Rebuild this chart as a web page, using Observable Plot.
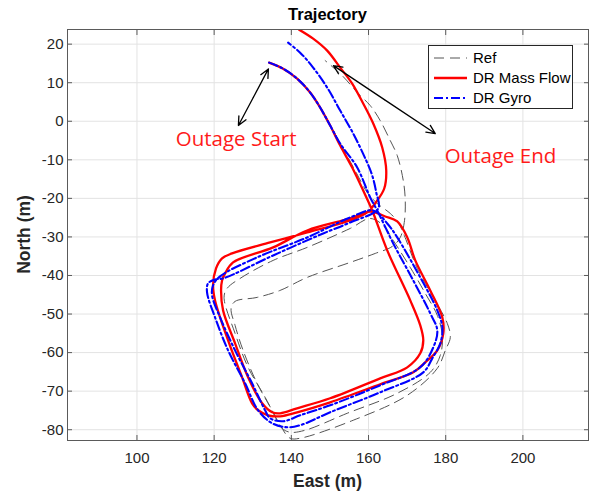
<!DOCTYPE html>
<html><head><meta charset="utf-8">
<script src="https://cdn.jsdelivr.net/npm/d3@7"></script>
<script src="https://cdn.jsdelivr.net/npm/@observablehq/plot@0.6"></script>
<style>
html,body{margin:0;padding:0;background:#fff;}
#chart{width:590px;height:491px;overflow:hidden;}
</style></head><body><div id="chart"></div>
<script>
const titleText = "Trajectory";
const xLabel = "East (m)";
const yLabel = "North (m)";
const xTicks = [100, 120, 140, 160, 180, 200];
const yTicks = [-80, -70, -60, -50, -40, -30, -20, -10, 0, 10, 20];
const seriesNames = ["Ref", "DR Mass Flow", "DR Gyro"];
const seriesColors = ["#555555", "#ff0000", "#0000ff"];

// [East, North] in metres
const refPath = [[134.24,15.21],[137.87,13.65],[141.50,11.06],[144.88,7.44],[147.73,3.29],[150.58,-1.89],[153.70,-7.59],[156.81,-13.29],[159.66,-18.47],[162.26,-21.32],[165.63,-23.91],[167.70,-26.24],[169.26,-29.61],[172.63,-38.17],[176.78,-45.69],[180.41,-52.42],[181.19,-56.05],[179.90,-59.42],[177.82,-64.08],[170.04,-71.08],[156.03,-77.55],[142.28,-82.21],[139.69,-82.21],[137.09,-78.85],[133.20,-71.59],[128.79,-63.82],[125.42,-55.01],[122.57,-45.69],[123.35,-43.35],[126.72,-40.76],[135.28,-36.09],[144.10,-32.72],[155.25,-27.80],[160.44,-25.21],[163.81,-27.02],[166.41,-30.91],[170.82,-37.91],[174.71,-44.65],[177.82,-50.34],[179.12,-55.53],[178.60,-60.71],[176.00,-65.12],[167.44,-70.56],[154.47,-75.74],[143.58,-80.14],[139.69,-80.66],[137.61,-79.62],[135.02,-74.96],[131.13,-67.97],[127.50,-59.42],[125.42,-52.94],[124.38,-48.53],[125.42,-46.72],[131.13,-45.69],[137.09,-43.87],[144.10,-40.50],[155.25,-36.61],[161.74,-34.28],[166.15,-32.47],[168.22,-30.13],[169.26,-26.24],[169.52,-20.54],[169.00,-15.36],[167.44,-8.89],[165.63,-5.00],[163.03,0.18],[160.44,4.07],[157.33,7.18],[153.18,11.84],[148.77,15.73]];

const massFlowPath = [[134.24,15.21],[137.87,13.65],[141.50,11.06],[144.88,7.44],[147.47,3.55],[150.06,-1.11],[152.66,-6.30],[155.77,-12.00],[158.62,-17.96],[160.96,-23.14],[164.85,-33.50],[170.82,-46.46],[173.41,-52.94],[174.19,-56.83],[173.41,-60.19],[170.04,-63.82],[163.03,-66.67],[150.06,-71.85],[141.50,-74.45],[137.09,-75.74],[135.02,-75.48],[132.43,-73.15],[128.79,-66.41],[125.42,-57.60],[122.31,-49.05],[121.79,-43.87],[122.05,-41.28],[122.83,-39.46],[124.90,-36.61],[135.28,-32.72],[144.10,-28.32],[155.25,-25.21],[160.44,-23.40],[164.33,-24.69],[167.44,-25.99],[170.04,-30.13],[172.11,-36.09],[176.00,-43.87],[179.12,-50.87],[179.38,-55.01],[177.82,-59.42],[174.71,-62.53],[171.59,-65.12],[163.03,-68.23],[150.06,-72.89],[141.50,-75.48],[137.09,-76.52],[133.98,-76.26],[131.39,-74.96],[129.83,-73.15],[127.24,-66.41],[123.61,-56.83],[120.23,-46.46],[119.71,-42.57],[120.49,-38.17],[122.05,-35.57],[124.64,-34.28],[134.50,-31.43],[144.10,-28.84],[155.25,-25.73],[159.66,-23.65],[162.26,-20.54],[164.07,-17.44],[164.59,-12.77],[163.55,-6.81],[161.22,-0.60],[158.62,4.59],[155.77,9.77],[152.66,13.91],[149.29,18.32],[145.65,21.43],[142.02,23.76]];

const gyroPath = [[134.24,15.21],[137.87,13.65],[141.50,11.06],[144.88,7.44],[147.47,3.55],[150.06,-1.11],[152.66,-5.78],[157.07,-12.00],[160.44,-19.77],[162.26,-23.14],[166.41,-31.69],[171.59,-41.28],[176.00,-49.83],[177.82,-54.23],[176.78,-58.64],[173.41,-63.82],[163.03,-68.49],[150.06,-73.67],[142.28,-76.26],[137.87,-77.81],[134.50,-77.04],[133.20,-74.96],[129.83,-67.97],[125.42,-59.42],[121.53,-50.87],[119.46,-45.17],[119.71,-42.57],[121.53,-40.24],[131.13,-35.31],[144.10,-30.13],[155.25,-24.95],[161.22,-23.14],[164.85,-26.50],[167.44,-30.13],[173.41,-40.50],[177.82,-49.05],[179.12,-53.46],[178.60,-57.60],[176.52,-61.49],[174.19,-65.12],[163.03,-70.30],[150.06,-75.48],[142.28,-78.85],[138.91,-79.37],[135.02,-78.33],[131.39,-74.96],[128.02,-67.97],[123.61,-59.42],[120.23,-50.87],[118.16,-44.39],[118.42,-42.05],[120.23,-41.02],[122.31,-40.76],[135.28,-34.80],[148.25,-29.10],[155.25,-26.24],[162.52,-22.62],[162.00,-18.47],[160.96,-14.07],[159.40,-10.18],[156.03,-3.19],[152.66,2.77],[149.29,8.73],[145.65,13.91],[142.28,17.80],[139.17,20.39]];

const annotationLabels = ["Outage Start", "Outage End"];
const annotationX = [125.7, 194.2];
const annotationY = [-4.8, -9.0];
// double-headed arrows: [x1, y1, x2, y2]
const arrowEnds = [[126.28,-1.11,134.06,13.58],[150.92,14.43,177.30,-3.19]];

const halfArrows = arrowEnds.flatMap(([a,b,c,d]) => {
  const mx = (a+c)/2, my = (b+d)/2;
  return [{x1:mx,y1:my,x2:a,y2:b},{x1:mx,y1:my,x2:c,y2:d}];
});
const annotations = annotationLabels.map((t,i)=>({t, x:annotationX[i], y:annotationY[i]}));

const font = "'Liberation Sans', Arial, Helvetica, sans-serif";
const plot = Plot.plot({
  width: 590, height: 491,
  marginLeft: 67, marginRight: 2, marginTop: 29, marginBottom: 51,
  x: {domain: [82, 217]},
  y: {domain: [-82.8, 23.8]},
  style: {fontFamily: font, fontSize: "15px", color: "#262626", background: "#ffffff"},
  marks: [
    Plot.gridX(xTicks, {stroke: "#e3e3e3", strokeOpacity: 1}),
    Plot.gridY(yTicks, {stroke: "#e3e3e3", strokeOpacity: 1}),
    Plot.line(refPath, {x: d=>d[0], y: d=>d[1], stroke: seriesColors[0], strokeWidth: 1, strokeDasharray: "10,6", curve: "catmull-rom", clip: true}),
    Plot.line(massFlowPath, {x: d=>d[0], y: d=>d[1], stroke: seriesColors[1], strokeWidth: 2.3, curve: "catmull-rom", clip: true}),
    Plot.line(gyroPath, {x: d=>d[0], y: d=>d[1], stroke: seriesColors[2], strokeWidth: 2.1, strokeDasharray: "9,3,2,3", curve: "catmull-rom", clip: true}),
    Plot.frame({stroke: "#5a5a5a", strokeWidth: 1}),
    Plot.axisX({ticks: xTicks, anchor: "bottom", tickSize: -5, tickPadding: 17, label: null, stroke: "#5a5a5a", fill: "#262626", tickFormat: d=>String(d)}),
    Plot.axisX({ticks: xTicks, anchor: "top", tickSize: -5, label: null, stroke: "#5a5a5a", tickFormat: () => ""}),
    Plot.axisY({ticks: yTicks, anchor: "left", tickSize: -5, tickPadding: 9, label: null, stroke: "#5a5a5a", fill: "#262626", tickFormat: d=>String(d)}),
    Plot.axisY({ticks: yTicks, anchor: "right", tickSize: -5, label: null, stroke: "#5a5a5a", tickFormat: () => ""}),
    Plot.arrow(halfArrows, {x1:"x1", y1:"y1", x2:"x2", y2:"y2", stroke: "#000", strokeWidth: 1.3, headLength: 11, headAngle: 50}),
    Plot.text(annotations, {x:"x", y:"y", text:"t", fill:"#ff1a1a", fontSize: 20.5, fontFamily: "'Open Sans', sans-serif", textAnchor:"middle", lineAnchor:"middle"})
  ]
});
document.getElementById("chart").appendChild(plot);

const svg = d3.select(plot);
svg.append("text").attr("x", 327.5).attr("y", 20).attr("text-anchor","middle")
  .attr("font-family", font).attr("font-size", 16.5).attr("font-weight","bold").attr("fill","#000").text(titleText);
svg.append("text").attr("x", 327.5).attr("y", 487).attr("text-anchor","middle")
  .attr("font-family", font).attr("font-size", 17.5).attr("font-weight","bold").attr("fill","#262626").text(xLabel);
svg.append("text").attr("transform","translate(30,234.5) rotate(-90)").attr("text-anchor","middle")
  .attr("font-family", font).attr("font-size", 17.5).attr("font-weight","bold").attr("fill","#262626").text(yLabel);

// legend
const lg = svg.append("g");
lg.append("rect").attr("x",428.5).attr("y",45.5).attr("width",144).attr("height",63)
  .attr("fill","#fff").attr("stroke","#262626").attr("stroke-width",1);
const dashes = ["10,6", null, "9,3,2,3"];
const widths = [1, 2.3, 2.1];
seriesNames.forEach((name,i)=>{
  const y = 58 + i*20;
  const ln = lg.append("line").attr("x1",434).attr("x2",467).attr("y1",y).attr("y2",y)
    .attr("stroke",seriesColors[i]).attr("stroke-width",widths[i]);
  if (dashes[i]) ln.attr("stroke-dasharray",dashes[i]);
  lg.append("text").attr("x",473).attr("y",y).attr("dy","0.35em").attr("text-anchor","start")
    .attr("font-family",font).attr("font-size",15).attr("fill","#000").text(name);
});
</script>
</body></html>
